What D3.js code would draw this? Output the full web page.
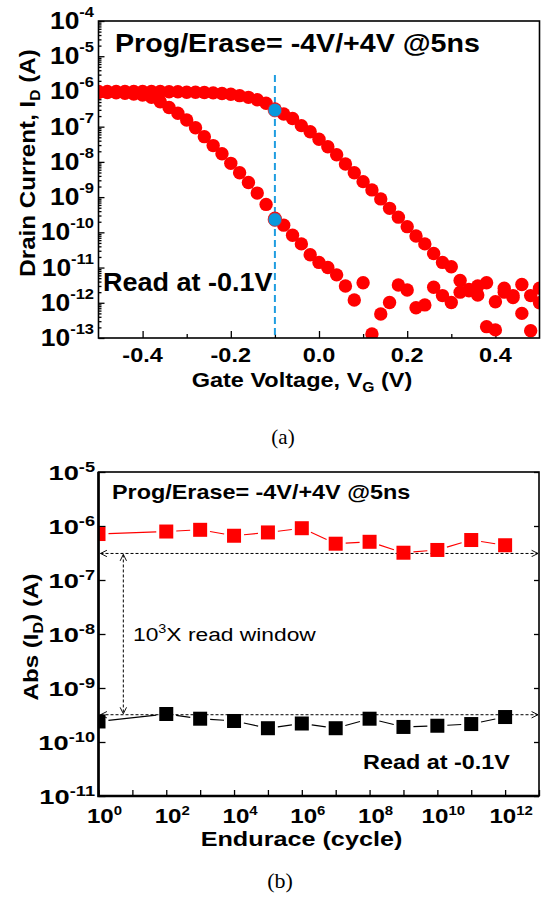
<!DOCTYPE html>
<html>
<head>
<meta charset="utf-8">
<script src="https://cdn.jsdelivr.net/npm/d3@7"></script>
<style>
body { margin: 0; background: #fff; }
svg { display: block; font-family: "Liberation Sans", Arial, sans-serif; }
</style>
</head>
<body>
<svg id="chart" width="542" height="902"></svg>
<script>
// ---- (a) Id-Vg after program / erase ----
var gateV = [-0.50,-0.48,-0.46,-0.44,-0.42,-0.40,-0.38,-0.36,-0.34,-0.32,
             -0.30,-0.28,-0.26,-0.24,-0.22,-0.20,-0.18,-0.16,-0.14,-0.12,
             -0.10,-0.08,-0.06,-0.04,-0.02,0.00,0.02,0.04,0.06,0.08,
             0.10,0.12,0.14,0.16,0.18,0.20,0.22,0.24,0.26,0.28,
             0.30,0.32,0.34,0.36,0.38,0.40,0.42,0.44,0.46,0.48,0.50];

var eraseId = [1.0e-6,1.0e-6,1.0e-6,1.0e-6,1.0e-6,1.0e-6,1.0e-6,1.0e-6,9.8e-7,9.8e-7,
               9.5e-7,9.5e-7,9.3e-7,9.1e-7,8.7e-7,8.3e-7,7.6e-7,6.8e-7,5.8e-7,4.6e-7,
               3.2e-7,2.3e-7,1.7e-7,1.07e-7,7.2e-8,4.4e-8,2.7e-8,1.6e-8,8.7e-9,4.9e-9,
               2.75e-9,1.6e-9,8.9e-10,4.8e-10,2.7e-10,1.45e-10,7.9e-11,4.7e-11,2.5e-11,1.4e-11,
               1.05e-11,4.3e-12,2.4e-12,3.0e-12,3.7e-12,1.07e-12,2.6e-12,1.6e-12,3.3e-12,1.6e-12,
               2.6e-12];

var progId = [9.3e-7,9.3e-7,9.1e-7,8.9e-7,8.5e-7,7.9e-7,6.8e-7,5.1e-7,3.5e-7,2.4e-7,
              1.55e-7,9.3e-8,5.2e-8,2.9e-8,1.7e-8,9.1e-9,4.9e-9,2.6e-9,1.3e-9,6.2e-10,
              2.5e-10,1.6e-10,8.3e-11,4.7e-11,2.3e-11,1.4e-11,1.0e-11,6.2e-12,3.0e-12,1.2e-12,
              3.7e-12,1.3e-13,4.8e-13,1.02e-12,3.2e-12,2.3e-12,7.2e-13,8.7e-13,2.75e-12,1.6e-12,
              1.02e-12,2.0e-12,2.2e-12,1.66e-12,2.1e-13,1.7e-13,2.0e-12,1.4e-12,5.0e-13,1.6e-13,
              1.0e-12];

var readV = -0.1;
var readId = [2.95e-7, 2.3e-10];

var vgTicks = [-0.4, -0.2, 0.0, 0.2, 0.4];
var vgMinor = [-0.3, -0.1, 0.1, 0.3];
var idDecades = [-4, -5, -6, -7, -8, -9, -10, -11, -12, -13];

// ---- (b) endurance ----
var cycles = [1, 1e2, 1e3, 1e4, 1e5, 1e6, 1e7, 1e8, 1e9, 1e10, 1e11, 1e12];
var eraseAbs = [7.1e-7, 7.9e-7, 8.5e-7, 6.6e-7, 7.6e-7, 9.1e-7, 4.7e-7, 5.1e-7, 3.2e-7, 3.6e-7, 5.5e-7, 4.4e-7];
var progAbs = [2.4e-10, 3.3e-10, 2.7e-10, 2.45e-10, 1.8e-10, 2.2e-10, 1.8e-10, 2.7e-10, 1.9e-10, 2.0e-10, 2.15e-10, 2.9e-10];
var windowLevels = [3.1e-7, 3.2e-10];
var windowArrowAt = 5.4;
var absDecades = [-5, -6, -7, -8, -9, -10, -11];
var cycleDecades = [0, 2, 4, 6, 8, 10, 12];

var svg = d3.select("#chart");

var xa = d3.scaleLinear().domain([-0.5, 0.5]).range([98.5, 539.5]);
var ya = d3.scaleLog().domain([1e-13, 1e-4]).range([338, 21]);
var xb = d3.scaleLog().domain([1, 1e13]).range([98.5, 539]);
var yb = d3.scaleLog().domain([1e-11, 1e-5]).range([796, 472]);

// text helper, the source figure is a bit stretched horizontally
function addText(g, x, y, size, sx, anchor, weight, rot) {
  var tf = "translate(" + x + "," + y + ")" + (rot ? " rotate(" + rot + ")" : "") + " scale(" + sx + ",1)";
  return g.append("text")
    .attr("transform", tf)
    .attr("text-anchor", anchor || "start")
    .style("font-size", size + "px")
    .style("font-weight", weight || "bold")
    .style("fill", "#000");
}

var defs = svg.append("defs");
defs.append("clipPath").attr("id", "clipA").append("rect")
  .attr("x", xa.range()[0]).attr("y", ya.range()[1])
  .attr("width", xa.range()[1] - xa.range()[0]).attr("height", ya.range()[0] - ya.range()[1]);
defs.append("clipPath").attr("id", "clipB").append("rect")
  .attr("x", xb.range()[0]).attr("y", yb.range()[1])
  .attr("width", xb.range()[1] - xb.range()[0]).attr("height", yb.range()[0] - yb.range()[1]);
defs.append("marker")
  .attr("id", "chev")
  .attr("viewBox", "0 0 10 10")
  .attr("refX", 9).attr("refY", 5)
  .attr("markerWidth", 8).attr("markerHeight", 8)
  .attr("markerUnits", "userSpaceOnUse")
  .attr("orient", "auto-start-reverse")
  .append("path")
    .attr("d", "M1,1 L9,5 L1,9")
    .attr("fill", "none")
    .attr("stroke", "#000")
    .attr("stroke-width", 1.2);

function styleAxis(g) {
  g.select(".domain").remove();
  g.selectAll("line").attr("stroke", "#000").attr("stroke-width", 1.3);
  g.selectAll("text").remove();
}

// ================= panel (a) =================
var ga = svg.append("g");

var minorA = ya.ticks().filter(function(d) { return Math.abs(Math.log10(d) - Math.round(Math.log10(d))) > 1e-6; });

ga.append("g").attr("transform", "translate(0," + ya.range()[0] + ")")
  .call(d3.axisBottom(xa).tickValues(vgTicks).tickSize(-7)).call(styleAxis);
ga.append("g").attr("transform", "translate(0," + ya.range()[0] + ")")
  .call(d3.axisBottom(xa).tickValues(vgMinor).tickSize(-4)).call(styleAxis);
ga.append("g").attr("transform", "translate(" + xa.range()[0] + ",0)")
  .call(d3.axisLeft(ya).tickValues(idDecades.map(function(e) { return Math.pow(10, e); })).tickSize(-6)).call(styleAxis);
ga.append("g").attr("transform", "translate(" + xa.range()[0] + ",0)")
  .call(d3.axisLeft(ya).tickValues(minorA).tickSize(-3)).call(styleAxis);

// read line
ga.append("line")
  .attr("x1", xa(readV)).attr("x2", xa(readV))
  .attr("y1", 75).attr("y2", ya.range()[0])
  .attr("stroke", "#1f9de0").attr("stroke-width", 2)
  .attr("stroke-dasharray", "7,4");

var dotsA = ga.append("g").attr("clip-path", "url(#clipA)");
[eraseId, progId].forEach(function(series) {
  dotsA.selectAll(null)
    .data(series)
    .enter().append("circle")
      .attr("cx", function(d, i) { return xa(gateV[i]); })
      .attr("cy", function(d) { return ya(d); })
      .attr("r", 6.7)
      .attr("fill", "#ff0000");
});
dotsA.selectAll(null)
  .data(readId)
  .enter().append("circle")
    .attr("cx", xa(readV))
    .attr("cy", function(d) { return ya(d); })
    .attr("r", 6.8)
    .attr("fill", "#0a98dc")
    .attr("stroke", "#e0202a")
    .attr("stroke-width", 0.8);

ga.append("rect")
  .attr("x", xa.range()[0]).attr("y", ya.range()[1])
  .attr("width", xa.range()[1] - xa.range()[0]).attr("height", ya.range()[0] - ya.range()[1])
  .attr("fill", "none").attr("stroke", "#000").attr("stroke-width", 1.6);

// tick labels
idDecades.forEach(function(e) {
  var t = addText(ga, 94, ya(Math.pow(10, e)) + 8, 24, 1.1, "end");
  t.append("tspan").text("10");
  t.append("tspan").attr("dy", -12).style("font-size", "15px").text(e);
});
vgTicks.forEach(function(v) {
  addText(ga, xa(v), 362, 21, 1.12, "middle").text(v.toFixed(1));
});

var tx = addText(ga, 302, 387, 21, 1.12, "middle");
tx.append("tspan").text("Gate Voltage, V");
tx.append("tspan").attr("dy", 5).style("font-size", "14px").text("G");
tx.append("tspan").attr("dy", -5).text(" (V)");

var ty = addText(ga, 35, 163, 22, 1.1, "middle", "bold", -90);
ty.append("tspan").text("Drain Current, I");
ty.append("tspan").attr("dy", 5).style("font-size", "14px").text("D");
ty.append("tspan").attr("dy", -5).text(" (A)");

addText(ga, 115, 52, 26, 1.1).text("Prog/Erase= -4V/+4V @5ns");
addText(ga, 103, 291, 25, 1.08).text("Read at -0.1V");

svg.append("text")
  .attr("x", 283).attr("y", 444)
  .attr("text-anchor", "middle")
  .style("font-family", "'Liberation Serif', 'Times New Roman', serif")
  .style("font-size", "21px")
  .text("(a)");

// ================= panel (b) =================
var gb = svg.append("g");

var minorB = xb.ticks().filter(function(d) { return Math.abs(Math.log10(d) - Math.round(Math.log10(d))) > 1e-6; });
var majorB = xb.ticks().filter(function(d) { return Math.abs(Math.log10(d) - Math.round(Math.log10(d))) <= 1e-6; });
var decB = absDecades.map(function(e) { return Math.pow(10, e); });

gb.append("g").attr("transform", "translate(0," + yb.range()[0] + ")")
  .call(d3.axisBottom(xb).tickValues(majorB).tickSize(-6)).call(styleAxis);
gb.append("g").attr("transform", "translate(0," + yb.range()[0] + ")")
  .call(d3.axisBottom(xb).tickValues(minorB).tickSize(-3)).call(styleAxis);
gb.append("g").attr("transform", "translate(0," + yb.range()[1] + ")")
  .call(d3.axisTop(xb).tickValues(minorB).tickSize(-3)).call(styleAxis)
  .selectAll("line").attr("stroke", "#aaa");
gb.append("g").attr("transform", "translate(" + xb.range()[0] + ",0)")
  .call(d3.axisLeft(yb).tickValues(decB).tickSize(-7)).call(styleAxis);
gb.append("g").attr("transform", "translate(" + xb.range()[1] + ",0)")
  .call(d3.axisRight(yb).tickValues(decB).tickSize(-5)).call(styleAxis);

// read window arrows
windowLevels.forEach(function(lv) {
  gb.append("line")
    .attr("x1", xb.range()[0] + 2).attr("x2", xb.range()[1] - 1)
    .attr("y1", yb(lv)).attr("y2", yb(lv))
    .attr("stroke", "#000").attr("stroke-width", 1)
    .attr("stroke-dasharray", "3,2")
    .attr("marker-start", "url(#chev)")
    .attr("marker-end", "url(#chev)");
});
gb.append("line")
  .attr("x1", xb(windowArrowAt)).attr("x2", xb(windowArrowAt))
  .attr("y1", yb(windowLevels[0]) + 1).attr("y2", yb(windowLevels[1]) - 1)
  .attr("stroke", "#000").attr("stroke-width", 1)
  .attr("stroke-dasharray", "3,2")
  .attr("marker-start", "url(#chev)")
  .attr("marker-end", "url(#chev)");

var dotsB = gb.append("g").attr("clip-path", "url(#clipB)");
function drawSeries(values, color) {
  var pts = values.map(function(v, i) { return [xb(cycles[i]), yb(v)]; });
  var segs = d3.pairs(pts);
  dotsB.selectAll(null)
    .data(segs)
    .enter().append("line")
      .each(function(s) {
        var dx = s[1][0] - s[0][0], dy = s[1][1] - s[0][1];
        var len = Math.sqrt(dx * dx + dy * dy), gap = 10;
        d3.select(this)
          .attr("x1", s[0][0] + dx * gap / len).attr("y1", s[0][1] + dy * gap / len)
          .attr("x2", s[1][0] - dx * gap / len).attr("y2", s[1][1] - dy * gap / len);
      })
      .attr("stroke", color).attr("stroke-width", 1.1);
  dotsB.selectAll(null)
    .data(pts)
    .enter().append("rect")
      .attr("x", function(d) { return d[0] - 7; })
      .attr("y", function(d) { return d[1] - 7; })
      .attr("width", 14).attr("height", 14)
      .attr("fill", color);
}
drawSeries(eraseAbs, "#ff0000");
drawSeries(progAbs, "#000");

gb.append("rect")
  .attr("x", xb.range()[0]).attr("y", yb.range()[1])
  .attr("width", xb.range()[1] - xb.range()[0]).attr("height", yb.range()[0] - yb.range()[1])
  .attr("fill", "none").attr("stroke", "#000").attr("stroke-width", 1.6);
gb.append("path")
  .attr("d", "M" + xb.range()[0] + "," + yb.range()[1] + "V" + yb.range()[0] + "H" + xb.range()[1])
  .attr("fill", "none").attr("stroke", "#000").attr("stroke-width", 2.6);

absDecades.forEach(function(e) {
  var t = addText(gb, 95, yb(Math.pow(10, e)) + 8, 21, 1.3, "end");
  t.append("tspan").text("10");
  t.append("tspan").attr("dy", -8).style("font-size", "14px").text(e);
});
cycleDecades.forEach(function(e) {
  var t = addText(gb, xb(Math.pow(10, e)) + 6, 823, 21, 1.15, "middle");
  t.append("tspan").text("10");
  t.append("tspan").attr("dy", -8).style("font-size", "13px").text(e);
});

addText(gb, 301.5, 846, 21, 1.2, "middle").text("Endurace (cycle)");

var tyb = addText(gb, 38, 637, 21, 1.15, "middle", "bold", -90);
tyb.append("tspan").text("Abs (I");
tyb.append("tspan").attr("dy", 5).style("font-size", "14px").text("D");
tyb.append("tspan").attr("dy", -5).text(") (A)");

addText(gb, 112, 499, 19.5, 1.2).text("Prog/Erase= -4V/+4V @5ns");
addText(gb, 363, 769, 19.5, 1.2).text("Read at -0.1V");

var tw = addText(gb, 133, 641, 19, 1.2, "start", "normal");
tw.append("tspan").text("10");
tw.append("tspan").attr("dy", -8).style("font-size", "12px").text("3");
tw.append("tspan").attr("dy", 8).text("X read window");

svg.append("text")
  .attr("x", 280).attr("y", 888)
  .attr("text-anchor", "middle")
  .style("font-family", "'Liberation Serif', 'Times New Roman', serif")
  .style("font-size", "22px")
  .text("(b)");
</script>
</body>
</html>
